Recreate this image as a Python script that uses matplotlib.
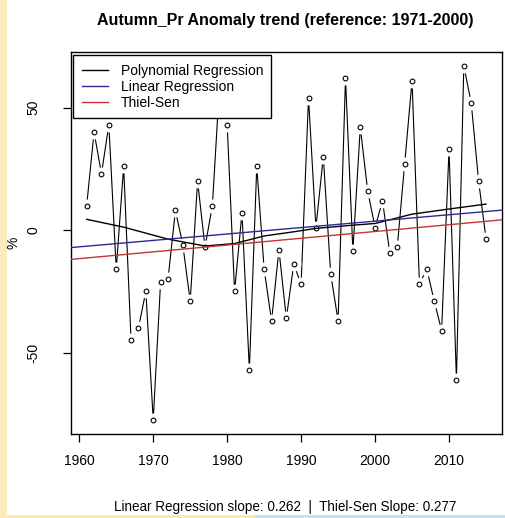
import numpy as np
import matplotlib
matplotlib.use('Agg')
import matplotlib.pyplot as plt
from matplotlib.patches import Rectangle

plt.rcParams['font.family'] = ['Liberation Sans', 'DejaVu Sans']

# autumn precipitation anomaly (%), 1961-2015
years = np.arange(1961, 2016)
anomaly = [10, 40, 23, 43, -16, 26, -45, -40, -25, -77.5,
           -21, -20, 8, -6, -29, 20, -7, 10, 61, 43,
           -25, 7, -57, 26, -16, -37, -8, -36, -14, -22,
           54, 1, 30, -18, -37, 62, -8.5, 42, 16, 1,
           12, -9.5, -7, 27, 61, -22, -16, -29, -41, 33,
           -61, 67, 52, 20, -3.5]

# polynomial fit curve
poly_years = [1961, 1966, 1972, 1977, 1981, 1985, 1989, 1992, 1997, 2000, 2005, 2010, 2015]
poly_fit = [4.4, 1.2, -3.7, -6.5, -5.5, -2.4, -0.7, 0.7, 2.0, 2.7, 6.5, 8.6, 10.6]

# straight trends: slope and value at 1988
lm_slope, lm_mid = 0.262, 0.5
ts_slope, ts_mid = 0.277, -3.9

fig = plt.figure(figsize=(5.05, 5.18), dpi=100)
fig.patch.set_facecolor('white')
ax = fig.add_axes([0.140, 0.162, 0.854, 0.738])

# data line with gaps around the points (R type="b")
ax.plot(years, anomaly, color='black', lw=0.8, zorder=2)
ax.plot(years, anomaly, ls='none', marker='o', ms=10, mfc='white', mec='none', zorder=2.1)
ax.plot(years, anomaly, ls='none', marker='o', ms=3.4, mfc='none', mec='black', mew=0.8, zorder=2.2)

ax.plot(poly_years, poly_fit, color='black', lw=1.0, zorder=3, label='Polynomial Regression')
ax.axline((1988, lm_mid), slope=lm_slope, color='#2a2a90', lw=1.0, zorder=3, label='Linear Regression')
ax.axline((1988, ts_mid), slope=ts_slope, color='#c83232', lw=1.0, zorder=3, label='Thiel-Sen')

# R-style 4% axis expansion
xr = years.max() - years.min()
ax.set_xlim(years.min() - 0.04 * xr, years.max() + 0.04 * xr)
yr = max(anomaly) - min(anomaly)
ax.set_ylim(min(anomaly) - 0.04 * yr, max(anomaly) + 0.04 * yr)

ax.set_xticks([1960, 1970, 1980, 1990, 2000, 2010])
ax.set_yticks([-50, 0, 50])
ax.set_yticklabels(['-50', '0', '50'], rotation=90, va='center')
ax.tick_params(direction='out', length=6, width=0.9, labelsize=10, color='black')
ax.tick_params(axis='x', pad=8)
ax.tick_params(axis='y', pad=16)
for s in ax.spines.values():
    s.set_linewidth(1.0)

fig.text(14 / 505, 0.531, '%', rotation=90, ha='center', va='center', fontsize=10)

leg = ax.legend(loc='upper left', bbox_to_anchor=(0.006, 0.991), borderaxespad=0,
                fontsize=10, fancybox=False, frameon=True, handlelength=1.9,
                handletextpad=0.9, labelspacing=0.15, borderpad=0.6)
leg.get_frame().set_edgecolor('black')
leg.get_frame().set_linewidth(1.0)
leg.get_frame().set_alpha(1)

fig.text(0.564, 0.961, 'Autumn_Pr Anomaly trend (reference: 1971-2000)',
         ha='center', va='center', fontsize=11.5, fontweight='bold')
fig.text(0.564, 0.021, 'Linear Regression slope: 0.262  |  Thiel-Sen Slope: 0.277',
         ha='center', va='center', fontsize=9.75)

# screenshot border strips
fig.patches.append(Rectangle((0, 0), 7 / 505, 1, transform=fig.transFigure,
                             facecolor='#fcebc0', edgecolor='none', zorder=0))
fig.patches.append(Rectangle((0, 0), 255 / 505, 3 / 518, transform=fig.transFigure,
                             facecolor='#fbe9b0', edgecolor='none', zorder=0))
fig.patches.append(Rectangle((255 / 505, 0), 250 / 505, 3 / 518, transform=fig.transFigure,
                             facecolor='#c6e2f6', edgecolor='none', zorder=0))

fig.savefig('out.png', dpi=100)
